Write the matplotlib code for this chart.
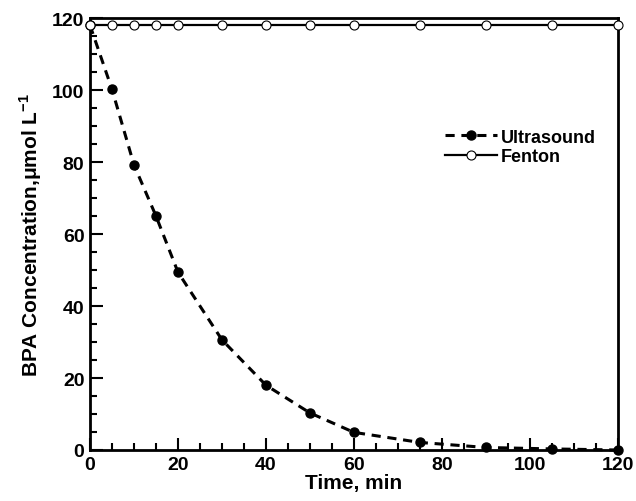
import matplotlib
matplotlib.use('Agg')
import matplotlib.pyplot as plt
from matplotlib.ticker import MultipleLocator

plt.rcParams['font.family'] = ['Liberation Sans', 'DejaVu Sans']
plt.rcParams['font.weight'] = 'bold'
plt.rcParams['mathtext.fontset'] = 'custom'
plt.rcParams['mathtext.rm'] = 'Liberation Sans:bold'
plt.rcParams['mathtext.bf'] = 'Liberation Sans:bold'

time = [0, 5, 10, 15, 20, 30, 40, 50, 60, 75, 90, 105, 120]
ultrasound = [118, 100.2, 79.2, 65, 49.4, 30.6, 18, 10.3, 4.9, 2.1, 0.7, 0.3, 0.0]
fenton = [118, 118, 118, 118, 118, 118, 118, 118, 118, 118, 118, 118, 118]

fig = plt.figure(figsize=(6.36, 5.02), dpi=100)
ax = fig.add_axes([0.1415, 0.1016, 0.83, 0.8605])

ax.plot(time, ultrasound, ls=(0, (3, 2.2)), lw=2.2, color='black', marker='o',
        ms=6.5, mfc='black', mec='black', clip_on=False, zorder=3, label='Ultrasound')
ax.plot(time, fenton, ls='-', lw=1.6, color='black', marker='o', ms=6.5,
        mfc='white', mec='black', mew=0.8, clip_on=False, zorder=3, label='Fenton')

ax.set_xlim(0, 120)
ax.set_ylim(0, 120)
ax.xaxis.set_major_locator(MultipleLocator(20))
ax.xaxis.set_minor_locator(MultipleLocator(5))
ax.yaxis.set_major_locator(MultipleLocator(20))
ax.yaxis.set_minor_locator(MultipleLocator(5))
ax.tick_params(which='both', direction='in', top=False, right=False, width=1.5)
ax.tick_params(which='major', length=9, labelsize=14, pad=4)
ax.tick_params(which='minor', length=5)
for s in ax.spines.values():
    s.set_linewidth(2)
for lab in ax.get_xticklabels() + ax.get_yticklabels():
    lab.set_fontweight('bold')

ax.set_xlabel('Time, min', fontsize=15, fontweight='bold', labelpad=0)
ax.set_ylabel('BPA Concentration,\u03bcmol L$^{-1}$', fontsize=15, fontweight='bold', labelpad=6)

ax.legend(loc='upper left', bbox_to_anchor=(0.655, 0.765), frameon=False,
          handlelength=2.9, handletextpad=0.2, labelspacing=0.15, borderpad=0,
          prop={'weight': 'bold', 'size': 13})

fig.savefig('out.png', dpi=100)
